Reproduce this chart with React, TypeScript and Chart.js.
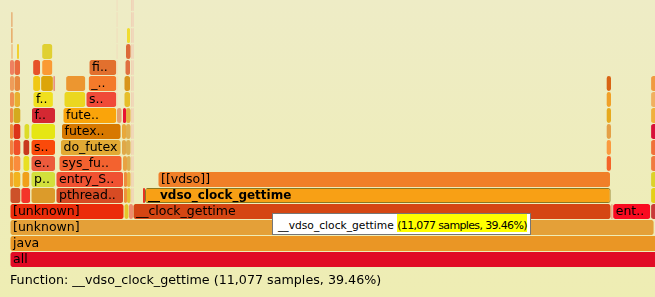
import React, { useEffect, useRef } from 'react';
import { Chart, registerables } from 'chart.js';

Chart.register(...registerables);

// ---- data (sample counts) ----
const TOTAL_SAMPLES = 28071;
const VISIBLE_SAMPLES = 15344; // part of the flame graph that fits in the view
const SELECTED_NAME = '__vdso_clock_gettime';
const SELECTED_SAMPLES = 11077;
const SELECTED_PCT = 39.46;

type Frame = [number, number, string]; // [start sample, end sample, label]

const LA: Frame = [2538, 2555, ''];
const LB: Frame = [2890, 2909, ''];
const LC: Frame = [2921, 2940, ''];

const depth0: Frame[] = [[0, TOTAL_SAMPLES, 'all']];
const depth1: Frame[] = [[0, TOTAL_SAMPLES, 'java']];
const depth2: Frame[] = [[0, 15322, '[unknown]']];
const depth3: Frame[] = [
  [0, 2712, '[unknown]'], [2712, 2831, ''], [2831, 2926, ''],
  [2926, 14297, '__clock_gettime'], [14297, 14338, ''], [14338, 15240, 'ent..'], [15240, 15463, ''],
];
const depth4: Frame[] = [
  [0, 258, ''], [258, 490, ''], [500, 1082, ''], [1094, 2700, 'pthread..'],
  [2712, 2783, ''], [2783, 2867, ''], LB, LC, [3164, 3212, ''],
  [3212, 14289, '__vdso_clock_gettime'], [15240, 15463, ''],
];
const depth5: Frame[] = [
  [0, 71, ''], [71, 258, ''], [285, 470, ''], [500, 1082, 'p..'], [1094, 2700, 'entry_S..'],
  [2712, 2783, ''], [2783, 2867, ''], LB, LC, [3521, 14285, '[[vdso]]'], [15240, 15463, ''],
];
const depth6: Frame[] = [
  [0, 71, ''], [71, 258, ''], [309, 470, ''], [500, 1082, 'e..'], [1166, 2664, 'sys_fu..'],
  [2688, 2783, ''], [2783, 2867, ''], LB, LC, [14195, 14297, ''], [15240, 15463, ''],
];
const depth7: Frame[] = [
  [0, 71, ''], [71, 258, ''], [309, 470, ''], [500, 1082, 's..'], [1200, 2641, 'do_futex'],
  [2664, 2760, ''], [2760, 2867, ''], LB, LC, [14195, 14297, ''], [15240, 15463, ''],
];
const depth8: Frame[] = [
  [0, 71, ''], [71, 258, ''], [333, 470, ''], [500, 1082, ''], [1225, 2641, 'futex..'],
  [2664, 2760, ''], [2760, 2867, ''], LB, LC, [14195, 14297, ''], [15240, 15463, ''],
];
const depth9: Frame[] = [
  [0, 71, ''], [71, 258, ''], [511, 1082, 'f..'], [1261, 2538, 'fute..'], [2545, 2653, ''],
  [2688, 2760, ''], [2760, 2867, ''], LB, LC, [14195, 14297, ''], [15240, 15463, ''],
];
const depth10: Frame[] = [
  [0, 95, ''], [95, 250, ''], [547, 1031, 'f..'], [1285, 1800, ''], [1808, 2538, 's..'], LA,
  [2712, 2867, ''], LB, LC, [14195, 14297, ''], [15240, 15463, ''],
];
const depth11: Frame[] = [
  [0, 95, ''], [95, 250, ''], [540, 726, ''], [730, 1031, ''], [1031, 1071, ''], [1325, 1800, ''],
  [1863, 2538, '_..'], LA, [2712, 2867, ''], LB, LC, [14195, 14297, ''], [15240, 15463, ''],
];
const depth12: Frame[] = [
  [0, 95, ''], [95, 250, ''], [540, 726, ''], [755, 1016, ''], [1880, 2538, 'fi..'], LA,
  [2736, 2867, ''], LB, LC,
];
const depth13: Frame[] = [[24, 71, ''], [167, 214, ''], [755, 1016, ''], LA, [2760, 2867, ''], LB, LC];
const depth14: Frame[] = [[24, 64, ''], LA, [2783, 2855, ''], LB, LC];
const depth15: Frame[] = [[24, 64, ''], LA, LB, LC];
const depth16: Frame[] = [LA, LB, LC];

const depths: Frame[][] = [
  depth0, depth1, depth2, depth3, depth4, depth5, depth6, depth7, depth8,
  depth9, depth10, depth11, depth12, depth13, depth14, depth15, depth16,
];

// ---- styles ----
const CA = '#F2D6BA';
const CB = '#F2BCA8';
const CC = '#F2C8B6';
const colors: string[][] = [
  ['#E10B25'],
  ['#EA9625'],
  ['#E4A038'],
  ['#EB2C0A', '#E6C42A', '#EE8C6C', '#D54613', '#E8B090', '#F90B20', '#C93A3A'],
  ['#CD5129', '#F43429', '#DC9B2A', '#D74B23', '#F0923A', '#E6BE32', CB, CC, '#E63222', '#F8A015', '#E4D018'],
  ['#F0A232', '#F2B41E', '#F0A01A', '#D2E03C', '#F05232', '#EE8C3C', '#E8B242', CB, CC, '#F07F28', '#DCD22A'],
  ['#F0902E', '#FA8C3C', '#E8E020', '#EC5A3C', '#F3622F', '#E8A242', '#DDB052', CB, CC, '#F46428', '#F07A40'],
  ['#F0803F', '#F05028', '#C83A1E', '#FA4A0A', '#E2AA34', '#E0A848', '#DCB050', CB, CC, '#FA9A40', '#F0703A'],
  ['#F08A3A', '#DC3418', '#DCDC28', '#E6E614', '#D77800', '#E8A83C', '#E0B050', CB, CC, '#E4A046', '#D8103A'],
  ['#EE8A48', '#D4AA1E', '#D42832', '#FAA40A', '#E4A070', '#E81432', '#E4B040', CB, CC, '#E6AA1E', '#F0B03C'],
  ['#F09050', '#E8B030', '#F0E01E', '#EBD720', '#F04A38', CA, '#E6BE28', CB, CC, '#F0A028', '#F0B060'],
  ['#EE9C5A', '#E88A40', '#F0C814', '#DCA50A', '#E89080', '#EC9630', '#F47A2A', CA, '#D8941C', CB, CC, '#D86414', '#F09A40'],
  ['#EE8060', '#EA6A3E', '#E6522A', '#FA9A34', '#E2702E', CA, '#E07040', CB, CC],
  ['#EEC890', '#F0D030', '#E0D032', CA, '#DC6A38', CB, CC],
  ['#E8B070', CA, '#F0DC30', CB, CC],
  ['#E8B880', CA, CB, CC],
  [CA, CB, CC],
];

const SAMPLES_PER_PX = VISIBLE_SAMPLES / 645;

type Flat = { level: number; start: number; end: number; name: string; color: string; selected: boolean };
const flat: Flat[] = depths.flatMap((row, level) =>
  row.map((f, j) => ({
    level,
    start: f[0],
    end: f[1],
    name: f[2],
    color: colors[level][j] ?? '#E8A040',
    selected: f[2] === SELECTED_NAME,
  }))
);

const fmt = (n: number) => n.toLocaleString('en-US');

const labelPlugin = {
  id: 'frameLabels',
  afterDatasetsDraw(chart: any) {
    const meta = chart.getDatasetMeta(0);
    const ctx: CanvasRenderingContext2D = chart.ctx;
    ctx.save();
    meta.data.forEach((el: any, i: number) => {
      const f = flat[i];
      if (!f.name) return;
      const p = el.getProps(['x', 'y', 'base', 'height'], true);
      const left = Math.min(p.x, p.base);
      const right = Math.max(p.x, p.base);
      const top = p.y - p.height / 2;
      ctx.save();
      ctx.beginPath();
      ctx.rect(left, top, right - left - 1, p.height);
      ctx.clip();
      ctx.font = f.selected ? 'bold 12px "DejaVu Sans"' : '12.5px "DejaVu Sans"';
      ctx.fillStyle = '#000000';
      ctx.textBaseline = 'alphabetic';
      ctx.textAlign = 'left';
      ctx.fillText(f.name, left + 3, top + 10.5);
      ctx.restore();
    });
    ctx.font = '12.7px "DejaVu Sans"';
    ctx.fillStyle = '#000000';
    ctx.textBaseline = 'alphabetic';
    ctx.fillText(
      `Function: ${SELECTED_NAME} (${fmt(SELECTED_SAMPLES)} samples, ${SELECTED_PCT.toFixed(2)}%)`,
      10,
      284
    );
    ctx.restore();
  },
};

export default function App() {
  const ref = useRef<HTMLCanvasElement>(null);
  useEffect(() => {
    if (!ref.current) return;
    const chart = new Chart(ref.current, {
      type: 'bar',
      data: {
        datasets: [
          {
            data: flat.map((f) => ({ x: [f.start, f.end], y: f.level })) as any,
            backgroundColor: flat.map((f) => f.color),
            borderColor: flat.map((f) => (f.selected ? '#8C7820' : 'rgba(0,0,0,0)')),
            borderWidth: ((c: any) => {
              const f = flat[c.dataIndex];
              if (!f) return 0;
              if (f.selected) return 1;
              const w = (f.end - f.start) / SAMPLES_PER_PX;
              return w > 5 ? { left: 0.5, right: 0.5, top: 0, bottom: 0 } : 0;
            }) as any,
            borderSkipped: false,
            borderRadius: 2.5,
            inflateAmount: 0,
            barThickness: 15,
          } as any,
        ],
      },
      options: {
        indexAxis: 'y',
        animation: false,
        responsive: false,
        events: [],
        layout: { padding: { left: 10, right: 0, top: 0, bottom: 29.5 } },
        scales: {
          x: { type: 'linear', min: 0, max: VISIBLE_SAMPLES, display: false, offset: false },
          y: { type: 'linear', min: -0.5, max: 16.21875, display: false, offset: false },
        },
        plugins: { legend: { display: false }, tooltip: { enabled: false }, title: { display: false } },
      },
      plugins: [labelPlugin],
    } as any);
    return () => chart.destroy();
  }, []);

  return (
    <div
      style={{
        position: 'absolute',
        left: 0,
        top: 0,
        width: 655,
        height: 297,
        overflow: 'hidden',
        background: 'linear-gradient(#EEECC6, #EEEDB3)',
      }}
    >
      <canvas
        ref={ref}
        width={655}
        height={297}
        style={{ position: 'absolute', left: 0, top: 0, width: 655, height: 297 }}
      />
      <div
        style={{
          position: 'absolute',
          left: 272,
          top: 213,
          height: 22,
          boxSizing: 'border-box',
          border: '1px solid #767676',
          background: '#ffffff',
          padding: '0 3px 0 5px',
          font: '10.7px "DejaVu Sans"',
          lineHeight: '20px',
          whiteSpace: 'nowrap',
          color: '#000000',
        }}
      >
        {SELECTED_NAME}{' '}
        <span
          style={{
            display: 'inline-block',
            height: 18,
            lineHeight: '23px',
            verticalAlign: 'baseline',
            background: '#ffff00',
            fontFamily: '"DejaVu Sans"',
            fontSize: '11px',
            letterSpacing: '-0.65px',
          }}
        >
          ({fmt(SELECTED_SAMPLES)} samples, {SELECTED_PCT.toFixed(2)}%)
        </span>
      </div>
    </div>
  );
}
